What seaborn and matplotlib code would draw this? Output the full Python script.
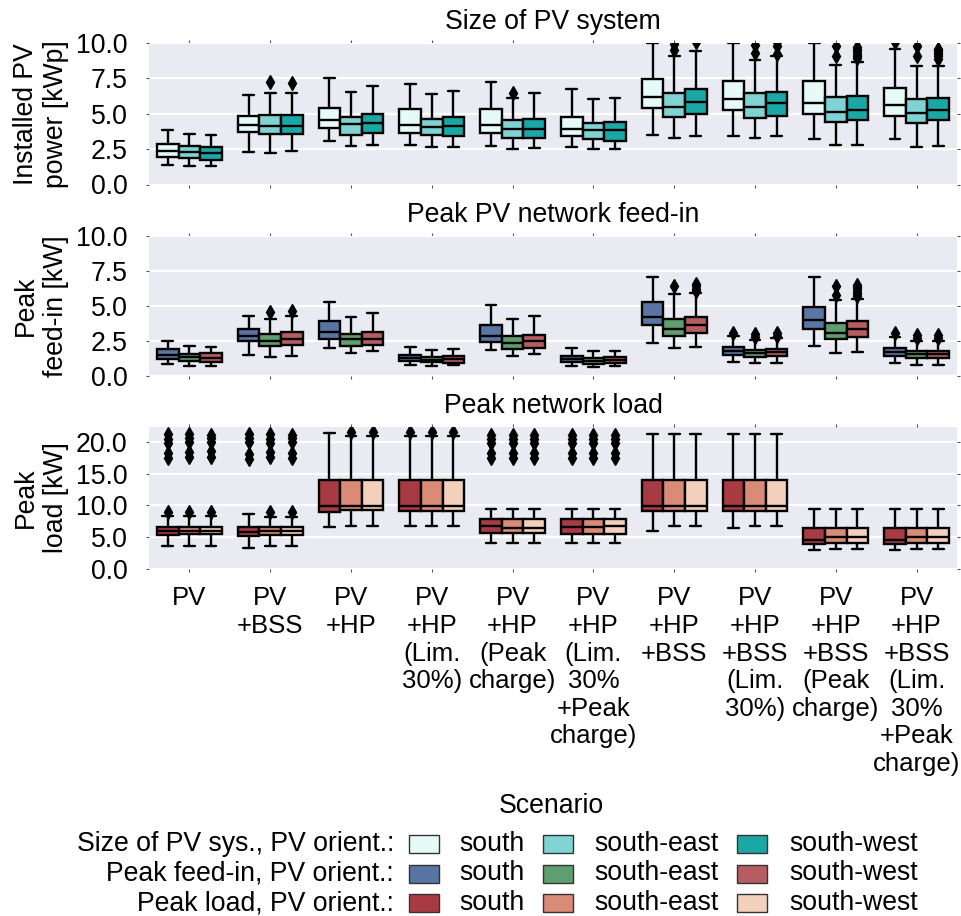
import matplotlib
matplotlib.use("Agg")
import matplotlib.pyplot as plt
from matplotlib.patches import Rectangle
from matplotlib.ticker import FormatStrFormatter, FixedLocator
import pandas as pd
import seaborn as sns

scenarios = [
    "PV",
    "PV\n+BSS",
    "PV\n+HP",
    "PV\n+HP\n(Lim.\n30%)",
    "PV\n+HP\n(Peak\ncharge)",
    "PV\n+HP\n(Lim.\n30%\n+Peak\ncharge)",
    "PV\n+HP\n+BSS",
    "PV\n+HP\n+BSS\n(Lim.\n30%)",
    "PV\n+HP\n+BSS\n(Peak\ncharge)",
    "PV\n+HP\n+BSS\n(Lim.\n30%\n+Peak\ncharge)",
]
orientations = ["south", "south-east", "south-west"]

# Box summaries per scenario: (lower whisker, Q1, median, Q3, upper whisker)
# --- installed PV power [kWp]
size_south = [(1.36, 1.97, 2.39, 2.87, 3.86), (2.32, 3.74, 4.19, 4.87, 6.32),
              (3.06, 3.98, 4.57, 5.42, 7.56), (2.82, 3.67, 4.21, 5.31, 7.12),
              (2.75, 3.67, 4.24, 5.35, 7.24), (2.63, 3.44, 3.93, 4.80, 6.74),
              (3.48, 5.40, 6.18, 7.49, 9.98), (3.45, 5.23, 6.01, 7.34, 9.97),
              (3.25, 4.98, 5.75, 7.34, 9.97), (3.25, 4.86, 5.59, 6.79, 9.55)]
size_south_out = [[], [], [], [], [], [], [], [], [], [10.1]]
size_se = [(1.31, 1.88, 2.28, 2.73, 3.58), (2.25, 3.59, 4.16, 4.92, 6.46),
           (2.73, 3.52, 4.26, 4.76, 6.55), (2.63, 3.48, 4.07, 4.66, 6.39),
           (2.49, 3.32, 3.91, 4.55, 6.13), (2.49, 3.23, 3.88, 4.36, 6.03),
           (3.28, 4.76, 5.50, 6.49, 9.05), (3.29, 4.69, 5.45, 6.45, 8.77),
           (2.78, 4.43, 5.10, 6.15, 8.44), (2.68, 4.36, 5.07, 6.03, 8.35)]
size_se_out = [[], [7.21], [], [], [6.46], [], [9.52, 9.95], [9.29, 9.85],
               [9.06, 9.81], [9.06, 9.76]]
size_sw = [(1.31, 1.75, 2.24, 2.68, 3.49), (2.35, 3.59, 4.16, 4.92, 6.50),
           (2.80, 3.63, 4.38, 4.99, 6.98), (2.68, 3.40, 4.16, 4.76, 6.62),
           (2.59, 3.32, 3.95, 4.66, 6.44), (2.54, 3.09, 3.86, 4.43, 6.10),
           (3.40, 4.98, 5.85, 6.76, 9.41), (3.40, 4.87, 5.78, 6.57, 9.05),
           (2.82, 4.57, 5.28, 6.22, 8.65), (2.73, 4.59, 5.26, 6.10, 8.35)]
size_sw_out = [[], [7.14], [], [], [], [], [10.1], [9.24, 9.76, 10.05],
               [8.95, 9.1, 9.25, 9.4, 9.55, 9.7], [8.9, 9.05, 9.2, 9.35, 9.5, 9.6]]

# --- peak PV network feed-in [kW]
feed_south = [(0.86, 1.21, 1.48, 1.90, 2.50), (1.52, 2.52, 2.86, 3.36, 4.29),
              (1.98, 2.64, 3.12, 3.93, 5.31), (0.79, 1.05, 1.31, 1.50, 2.07),
              (1.86, 2.43, 2.88, 3.64, 5.07), (0.74, 0.98, 1.19, 1.43, 1.98),
              (2.33, 3.64, 4.19, 5.26, 7.05), (0.98, 1.52, 1.81, 2.07, 2.86),
              (2.17, 3.36, 4.00, 4.90, 7.05), (0.90, 1.40, 1.69, 2.00, 2.81)]
feed_south_out = [[], [], [], [], [], [], [], [3.05], [], [3.05]]
feed_se = [(0.74, 1.05, 1.33, 1.57, 2.14), (1.33, 2.14, 2.52, 3.00, 4.07),
           (1.64, 2.17, 2.62, 3.02, 4.24), (0.74, 0.98, 1.17, 1.38, 1.86),
           (1.45, 1.95, 2.33, 2.83, 4.07), (0.67, 0.88, 1.10, 1.29, 1.79),
           (2.00, 2.88, 3.36, 4.07, 5.85), (0.90, 1.38, 1.62, 1.86, 2.55),
           (1.67, 2.64, 3.10, 3.76, 5.42), (0.76, 1.29, 1.57, 1.79, 2.52)]
feed_se_out = [[], [4.55], [], [], [], [], [6.43], [2.8, 3.0], [5.8, 6.43], [2.75, 2.95]]
feed_sw = [(0.74, 1.02, 1.31, 1.62, 2.07), (1.43, 2.19, 2.64, 3.12, 4.29),
           (1.76, 2.21, 2.67, 3.14, 4.52), (0.76, 0.95, 1.19, 1.40, 1.95),
           (1.57, 2.02, 2.50, 2.93, 4.26), (0.71, 0.90, 1.12, 1.33, 1.81),
           (2.10, 3.05, 3.64, 4.24, 5.90), (0.95, 1.40, 1.69, 1.95, 2.69),
           (1.71, 2.76, 3.33, 3.90, 5.50), (0.76, 1.31, 1.55, 1.81, 2.52)]
feed_sw_out = [[], [4.62], [], [], [], [], [6.1, 6.25, 6.4, 6.6], [2.85, 3.05],
               [5.7, 5.85, 6.0, 6.2, 6.35, 6.5], [2.7, 2.9]]

# --- peak network load [kW]
load_south = [(3.58, 5.39, 6.00, 6.63, 8.35), (3.27, 5.14, 5.86, 6.59, 8.61),
              (6.64, 9.03, 9.90, 14.05, 21.4), (6.70, 9.13, 9.90, 14.05, 21.0),
              (4.05, 5.65, 6.70, 7.94, 9.39), (4.05, 5.55, 6.54, 7.94, 9.39),
              (6.01, 9.08, 9.90, 14.05, 21.3), (6.38, 9.08, 9.90, 14.05, 21.3),
              (3.01, 3.95, 4.62, 6.38, 9.39), (3.01, 3.95, 4.62, 6.38, 9.39)]
load_south_out = [[8.9, 17.4, 18.2, 19.9, 20.5, 21.2], [17.3, 18.1, 20.0, 20.6, 21.2],
                  [], [21.5], [17.5, 18.3, 19.9, 20.5, 21.1],
                  [17.5, 18.3, 19.9, 20.5, 21.1], [], [], [], []]
load_se = [(3.67, 5.44, 5.97, 6.63, 8.35), (3.58, 5.35, 5.91, 6.59, 8.26),
           (6.80, 9.24, 9.86, 14.05, 21.0), (6.70, 9.13, 9.90, 14.05, 21.0),
           (4.05, 5.65, 6.43, 7.94, 9.39), (4.05, 5.55, 6.54, 7.94, 9.39),
           (6.80, 9.20, 9.86, 14.05, 21.3), (6.80, 9.20, 9.86, 14.05, 21.3),
           (3.11, 4.05, 5.08, 6.38, 9.39), (3.11, 4.05, 5.08, 6.38, 9.39)]
load_se_out = [[8.9, 17.6, 18.4, 20.0, 20.6, 21.3], [8.9, 17.6, 18.4, 19.8, 20.5, 21.3],
               [21.5], [21.5], [17.5, 18.3, 19.9, 20.5, 21.1],
               [17.5, 18.3, 19.9, 20.5, 21.1], [], [], [], []]
load_sw = [(3.67, 5.44, 6.05, 6.63, 8.35), (3.58, 5.35, 5.95, 6.63, 8.26),
           (6.80, 9.24, 9.90, 14.05, 21.0), (6.70, 9.13, 9.90, 14.05, 21.0),
           (4.05, 5.65, 6.40, 7.94, 9.39), (4.05, 5.55, 6.70, 7.94, 9.39),
           (6.80, 9.20, 9.86, 14.05, 21.3), (6.80, 9.20, 9.86, 14.05, 21.3),
           (3.11, 4.05, 5.00, 6.38, 9.39), (3.11, 4.05, 5.00, 6.38, 9.39)]
load_sw_out = [[8.9, 17.7, 18.5, 20.0, 20.6, 21.1], [8.9, 17.5, 18.3, 20.0, 20.6, 21.1],
               [21.5], [21.5], [17.5, 18.3, 19.9, 20.5, 21.1],
               [17.5, 18.3, 19.9, 20.5, 21.1], [], [], [], []]

size_colors = ["#E6FAF8", "#7FD3D3", "#19A8A6"]
feed_colors = ["#5975A4", "#5F9E6E", "#B55D60"]
load_colors = ["#A83A44", "#D98B77", "#F2D0BC"]

legend_rows = ["Size of PV sys., PV orient.:", "Peak feed-in, PV orient.:",
               "Peak load, PV orient.:"]


def box_values(stats, outliers):
    """Sample whose quartiles, whiskers and fliers reproduce the summary."""
    lo, q1, med, q3, hi = stats
    low_out = [o for o in outliers if o < q1]
    high_out = [o for o in outliers if o > q3]
    a = max(len(low_out), len(high_out)) + 1
    m = a + 2
    lows = low_out + [lo] * (a - len(low_out))
    highs = [hi] * (a - len(high_out)) + high_out
    return lows + [q1] * m + [med] + [q3] * m + highs


def long_table(stat_sets, outlier_sets):
    rows = []
    for orient, stat_list, out_list in zip(orientations, stat_sets, outlier_sets):
        for scen, st, out in zip(scenarios, stat_list, out_list):
            for v in box_values(st, out):
                rows.append((scen, orient, v))
    return pd.DataFrame(rows, columns=["scenario", "orientation", "value"])


size_df = long_table([size_south, size_se, size_sw], [size_south_out, size_se_out, size_sw_out])
feed_df = long_table([feed_south, feed_se, feed_sw], [feed_south_out, feed_se_out, feed_sw_out])
load_df = long_table([load_south, load_se, load_sw], [load_south_out, load_se_out, load_sw_out])

sns.set_theme(style="darkgrid")
plt.rcParams["font.family"] = ["Liberation Sans", "DejaVu Sans"]
plt.rcParams.update({"text.color": "black", "axes.labelcolor": "black",
                     "xtick.color": "black", "ytick.color": "black"})
FS = 19.2
FS_X = 18.5

W, H = 962, 916
fig = plt.figure(figsize=(W / 100, H / 100), dpi=100)


def add_axes_px(top, bottom, left=149, right=957):
    return fig.add_axes([left / W, 1 - bottom / H, (right - left) / W, (bottom - top) / H])


ax_size = add_axes_px(43, 184.5)
ax_feed = add_axes_px(236, 376)
ax_load = add_axes_px(427, 569)

panels = [
    (ax_size, size_df, size_colors, (0, 10), "Size of PV system", "Installed PV\npower [kWp]"),
    (ax_feed, feed_df, feed_colors, (0, 10), "Peak PV network feed-in", "Peak\nfeed-in [kW]"),
    (ax_load, load_df, load_colors, (0, 22.35), "Peak network load", "Peak\nload [kW]"),
]

for ax, df, colors, ylim, title, ylabel in panels:
    sns.boxplot(
        data=df, x="scenario", y="value", hue="orientation",
        order=scenarios, hue_order=orientations, palette=colors,
        saturation=1, width=0.8, linewidth=1.7, linecolor="black",
        fliersize=7, legend=False, ax=ax,
        flierprops=dict(marker="d", markerfacecolor="black",
                        markeredgecolor="black", markersize=7),
    )
    ax.set_ylim(*ylim)
    ax.set_xlim(-0.5, len(scenarios) - 0.5)
    ax.set_title(title, fontsize=FS, pad=10, color="black")
    ax.set_ylabel(ylabel, fontsize=FS, labelpad=5, color="black")
    ax.set_xlabel("")
    ax.set_facecolor("#EAEAF2")
    ax.xaxis.grid(False)
    ax.yaxis.grid(True, color="white", linewidth=1.6)
    ax.set_axisbelow(True)
    for s in ax.spines.values():
        s.set_visible(False)
    ax.tick_params(axis="both", which="major", direction="out", length=2.5,
                   width=0.8, color="#555555", labelcolor="black", top=True,
                   bottom=True, left=True, right=True, labelsize=FS)
    ax.tick_params(axis="y", pad=13)
    ax.tick_params(axis="x", pad=10, labelsize=FS_X)

ax_size.tick_params(axis="x", labelbottom=False)
ax_feed.tick_params(axis="x", labelbottom=False)
ax_load.yaxis.set_major_locator(FixedLocator([0, 5, 10, 15, 20]))
ax_load.yaxis.set_major_formatter(FormatStrFormatter("%.1f"))
for ax in (ax_size, ax_feed):
    ax.yaxis.set_major_locator(FixedLocator([0, 2.5, 5, 7.5, 10]))
    ax.yaxis.set_major_formatter(FormatStrFormatter("%.1f"))
for lbl in ax_load.get_xticklabels():
    lbl.set_linespacing(1.19)

# Legend block: row captions, coloured swatches and orientation names
fig.text(551 / W, 1 - 806 / H, "Scenario", ha="center", va="center", fontsize=FS)
swatch_x = [409, 543, 737]
name_x = [459, 594, 789]
for r, (row_label, colors) in enumerate(zip(legend_rows, [size_colors, feed_colors, load_colors])):
    yc = 844 + 29.5 * r
    fig.text(394 / W, 1 - yc / H, row_label, ha="right", va="center", fontsize=FS)
    for c, (col, orient) in enumerate(zip(colors, orientations)):
        fig.add_artist(Rectangle((swatch_x[c] / W, 1 - (yc + 9) / H), 30 / W, 18 / H,
                                 transform=fig.transFigure, facecolor=col,
                                 edgecolor="#333333", linewidth=1))
        fig.text(name_x[c] / W, 1 - yc / H, orient, ha="left", va="center", fontsize=FS)

fig.savefig("out.png", dpi=100)
